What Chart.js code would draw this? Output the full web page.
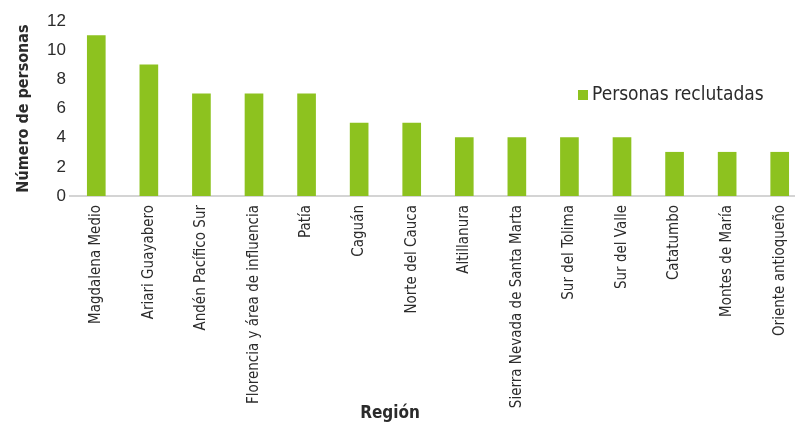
<!DOCTYPE html>
<html>
<head>
<meta charset="utf-8">
<script src="https://cdn.jsdelivr.net/npm/chart.js@4/dist/chart.umd.min.js"></script>
<style>
  html, body { margin: 0; padding: 0; background: #fff; overflow: hidden; }
  #wrap { width: 820px; height: 430px; }
</style>
</head>
<body>
<div id="wrap"><canvas id="chart" width="820" height="430"></canvas></div>
<script>
const regions = [
  "Magdalena Medio", "Ariari Guayabero", "Andén Pacífico Sur",
  "Florencia y área de influencia", "Patía", "Caguán", "Norte del Cauca",
  "Altillanura", "Sierra Nevada de Santa Marta", "Sur del Tolima",
  "Sur del Valle", "Catatumbo", "Montes de María", "Oriente antioqueño"
];
const recruited = [11, 9, 7, 7, 7, 5, 5, 4, 4, 4, 4, 3, 3, 3];
const seriesName = "Personas reclutadas";
const xTitle = "Región";

const narrow = "'DejaVu Sans Condensed', 'Liberation Sans Narrow', sans-serif";
const green = "#8dc21f";
const textColor = "#2b2b2b";

// legend inside the plot at the right, and the x title a bit left of centre
const extraText = {
  id: "extraText",
  afterDraw(chart) {
    const ctx = chart.ctx;
    ctx.save();
    ctx.fillStyle = green;
    ctx.fillRect(578, 90, 10, 10);
    ctx.fillStyle = textColor;
    ctx.font = "19px " + narrow;
    ctx.textBaseline = "middle";
    ctx.fillText(seriesName, 592, 95);
    ctx.font = "bold 17px " + narrow;
    ctx.textAlign = "center";
    ctx.fillText(xTitle, 390, 414);
    ctx.restore();
  }
};

new Chart(document.getElementById("chart"), {
  type: "bar",
  data: {
    labels: regions,
    datasets: [{
      label: seriesName,
      data: recruited,
      backgroundColor: green,
      barThickness: 18
    }]
  },
  options: {
    responsive: false,
    animation: false,
    layout: { padding: { top: 21, left: 14, right: 14, bottom: 0 } },
    plugins: {
      legend: { display: false },
      tooltip: { enabled: false }
    },
    scales: {
      x: {
        grid: { display: false, drawTicks: false },
        border: { display: true, color: "#d4d4d4", width: 2 },
        ticks: {
          minRotation: 90,
          maxRotation: 90,
          autoSkip: false,
          padding: 9,
          color: textColor,
          font: { family: narrow, size: 15 }
        },
        afterFit(scale) { scale.height = 234; }
      },
      y: {
        min: 0,
        max: 12,
        grid: { display: false, drawTicks: false },
        border: { display: false },
        ticks: {
          stepSize: 2,
          padding: 4,
          color: textColor,
          font: { family: "'Liberation Sans', Arial, sans-serif", size: 17 }
        },
        title: {
          display: true,
          text: "Número de personas",
          color: textColor,
          padding: { top: 0, bottom: 4 },
          font: { family: narrow, size: 16, weight: "bold" }
        },
        afterFit(scale) { scale.width = 56; }
      }
    }
  },
  plugins: [extraText]
});
</script>
</body>
</html>
